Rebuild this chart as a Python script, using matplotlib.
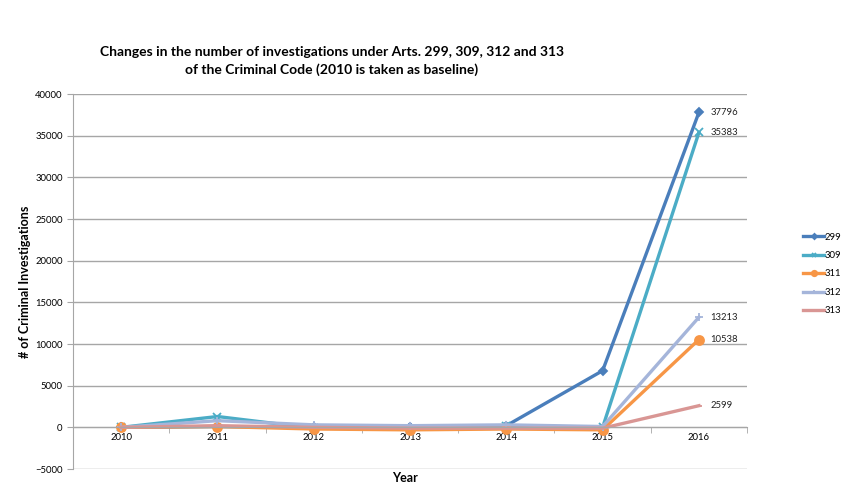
import matplotlib
matplotlib.use('Agg')
import matplotlib.pyplot as plt

plt.rcParams['font.family'] = ['Lato', 'DejaVu Sans']

years = ['2010', '2011', '2012', '2013', '2014', '2015', '2016']
art_299 = [0, 100, 0, 100, 200, 6800, 37796]
art_309 = [0, 1300, -100, -200, 200, 0, 35383]
art_311 = [0, 100, -200, -300, -200, -300, 10538]
art_312 = [0, 800, 300, 200, 300, 100, 13213]
art_313 = [0, 200, 0, -100, -100, -100, 2599]

series = [
    ('299', art_299, '#4a7ebb', 'D', 4.5),
    ('309', art_309, '#4bacc6', 'x', 6),
    ('311', art_311, '#f79646', 'o', 6.5),
    ('312', art_312, '#a5b5da', '+', 6),
    ('313', art_313, '#d99694', '_', 5),
]

fig = plt.figure(figsize=(8.5, 4.98), dpi=100)
ax = fig.add_axes([0.0859, 0.0582, 0.793, 0.753])

x = list(range(len(years)))
handles = []
for name, vals, col, mk, ms in series:
    h, = ax.plot(x, vals, color=col, lw=2.4, marker=mk, markersize=ms,
                 markeredgewidth=1.3, markeredgecolor=col, label=name)
    handles.append(h)
    ax.text(x[-1] + 0.12, vals[-1], str(vals[-1]), fontsize=6.8,
            va='center', ha='left', color='#222222')

ax.set_xlim(-0.5, 6.5)
ax.set_ylim(-5000, 40000)
ax.set_yticks(range(-5000, 40001, 5000))
ax.yaxis.grid(True, color='#a6a6a6', lw=1)
ax.set_axisbelow(True)
ax.set_xticks(x)
ax.set_xticklabels(years)
ax.set_xticks([i + 0.5 for i in range(-1, 7)], minor=True)
ax.tick_params(axis='x', which='major', length=0, labelsize=6.8, pad=4)
ax.tick_params(axis='x', which='minor', length=4, color='#a6a6a6')
ax.tick_params(axis='y', labelsize=6.8, length=4, color='#a6a6a6')
ax.spines['bottom'].set_position(('data', 0))
ax.spines['bottom'].set_color('#a6a6a6')
ax.spines['left'].set_color('#a6a6a6')
ax.spines['top'].set_visible(False)
ax.spines['right'].set_visible(False)

ax.set_ylabel('# of Criminal Investigations', fontsize=9, fontweight='bold', labelpad=3)
fig.text(0.476, 0.04, 'Year', fontsize=9, fontweight='bold', ha='center', va='center')

fig.text(0.39, 0.878, 'Changes in the number of investigations under Arts. 299, 309, 312 and 313\n'
         'of the Criminal Code (2010 is taken as baseline)',
         fontsize=10, fontweight='bold', ha='center', va='center', linespacing=1.5)

fig.legend(handles=handles, loc='center left', bbox_to_anchor=(0.935, 0.45),
           frameon=False, fontsize=6.8, handlelength=2.2, handletextpad=0.1,
           labelspacing=1.0, markerscale=0.6)

fig.savefig('out.png', dpi=100)
